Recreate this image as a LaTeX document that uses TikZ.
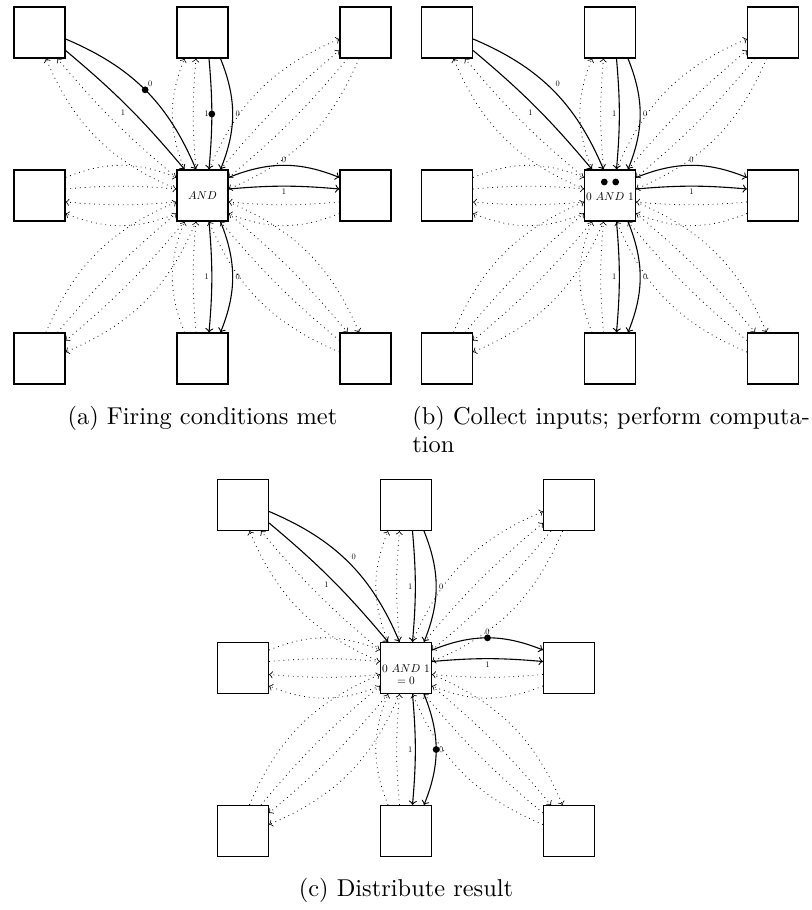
\documentclass[tikz,border=0pt]{standalone}
\newcommand\mkpanel[3]{%
  \foreach \nm/\dx/\dy in {c/0/0, n/0/163, ne/163/163, e/163/0, se/163/-163, s/0/-163, sw/-163/-163, w/-163/0, nw/-163/163}
    \node[pe] (#1\nm) at (#2+\dx,#3+\dy) {};
  \foreach \nd in {c,n,ne,e,se,s,sw,w,nw}{
    \foreach \k/\o in {1/-18,2/-6.5,3/6.5,4/18}{
      \coordinate (#1\nd-n\k) at ([shift={(\o,0)}]#1\nd.north);
      \coordinate (#1\nd-s\k) at ([shift={(\o,0)}]#1\nd.south);
      \coordinate (#1\nd-e\k) at ([shift={(0,\o)}]#1\nd.east);
      \coordinate (#1\nd-w\k) at ([shift={(0,\o)}]#1\nd.west);
    }
  }
  \foreach \f/\t/\b in {c-n1/n-s1/22, c-n2/n-s2/5, e-w1/c-e1/22, e-w2/c-e2/5,
      s-n1/c-s1/22, s-n2/c-s2/5, c-w1/w-e1/22, c-w2/w-e2/5, w-e4/c-w4/22, w-e3/c-w3/5,
      c-w3/nw-s3/22, c-w4/nw-s4/5, ne-s2/c-e3/22, ne-s1/c-e4/5, c-n3/ne-w2/22, c-n4/ne-w1/5,
      se-w3/c-s3/22, se-w4/c-s4/5, c-e2/se-n2/22, c-e1/se-n1/5,
      sw-n3/c-w2/22, sw-n4/c-w1/5, c-s2/sw-e3/22, c-s1/sw-e4/5}
    \draw[inact] (#1\f) to[bend left=\b] (#1\t);
  \foreach \f/\t/\m in {nw-e2/c-n2/nwin0, n-s4/c-n4/nin0, c-e4/e-w4/eout0, c-s4/s-n4/sout0}
    \draw[act] (#1\f) to[bend left=22] node[lbl, auto] {\lb{0}} coordinate[pos=0.5] (#1\m) (#1\t);
  \foreach \f/\t/\m in {nw-e1/c-n1/nwin1, n-s3/c-n3/nin1, c-e3/e-w3/eout1, c-s3/s-n3/sout1}
    \draw[act] (#1\f) to[bend left=5] node[lbl, auto, swap] {\lb{1}} coordinate[pos=0.5] (#1\m) (#1\t);
}
\newcommand\lb[1]{\scalebox{0.42}{#1}}
\newcommand\ct[1]{\scalebox{0.57}{#1}}
\newcommand\cpt[1]{\scalebox{1.22}{#1}}
\begin{document}
\begin{tikzpicture}[x=0.5pt,y=0.5pt,
  pe/.style={draw, line width=0.6pt, minimum size=25.5pt, inner sep=0pt},
  inact/.style={->, dotted, line width=0.4pt},
  act/.style={->, line width=0.55pt},
  lbl/.style={inner sep=1.2pt},
  tok/.style={circle, fill, inner sep=0pt, minimum size=3.4pt},
  ctext/.style={inner sep=0pt},
  captxt/.style={inner sep=0pt}]
\useasboundingbox (0,0) rectangle (812,910);

\mkpanel{a}{202.5}{714.5}
\mkpanel{b}{610}{714.5}
\mkpanel{c}{406}{242}

% panel (a)
\node[ctext] (atx) at (ac) {\ct{$AND$}};
\node[tok] (at1) at (anwin0) {};
\node[tok] (at2) at (anin1) {};

% panel (b)
\node[ctext] (btx) at ([shift={(0,-1.5)}]bc.center) {\ct{0 $AND$ 1}};
\node[tok] (bt1) at ([shift={(-5.7,13.5)}]bc.center) {};
\node[tok] (bt2) at ([shift={(5.7,13.5)}]bc.center) {};

% panel (c)
\node[ctext] (ctx1) at ([shift={(0,-0.5)}]cc.center) {\ct{0 $AND$ 1}};
\node[ctext] (ctx2) at ([shift={(0,-12.5)}]cc.center) {\ct{$=0$}};
\node[tok] (ct1) at (ceout0) {};
\node[tok] (ct2) at (csout0) {};

% captions
\node[captxt, anchor=base] (capa) at (202.5,485) {\cpt{(a) Firing conditions met}};
\node[captxt, anchor=base west] (capb1) at (412,485) {\cpt{(b) Collect inputs; perform computa-}};
\node[captxt, anchor=base west] (capb2) at (412,457) {\cpt{tion}};
\node[captxt, anchor=base] (capc) at (406,13) {\cpt{(c) Distribute result}};
\end{tikzpicture}
\end{document}
